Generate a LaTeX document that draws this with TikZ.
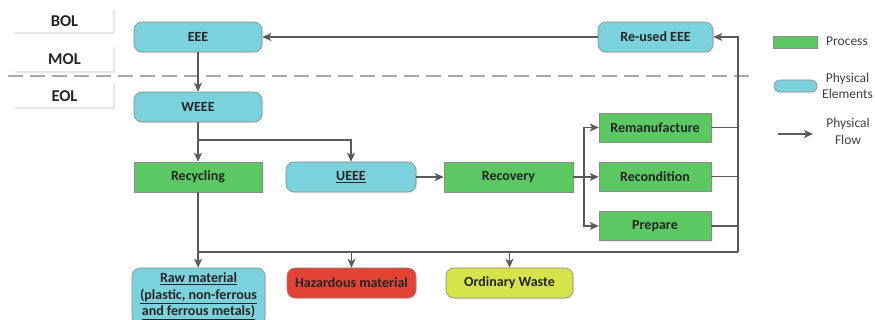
\documentclass[tikz,border=0pt]{standalone}
\usepackage{fontspec}
\setmainfont{Carlito}
\usetikzlibrary{arrows.meta,shadows}
\definecolor{phys}{HTML}{7BD2DC}
\definecolor{proc}{HTML}{5CC862}
\definecolor{haz}{HTML}{E34335}
\definecolor{ordw}{HTML}{D6E34A}
\definecolor{flow}{HTML}{5A5A5A}
\definecolor{boxedge}{HTML}{8C8C8C}
\definecolor{phaseedge}{HTML}{E6E6E6}
\definecolor{divider}{HTML}{A8A8A8}
\definecolor{legendtext}{HTML}{404040}

\begin{document}
\begin{tikzpicture}[x=1pt,y=-1pt,
  box/.style={draw=boxedge, line width=0.6pt, inner sep=0pt, align=center,
    font=\fontsize{14}{16.5}\selectfont\bfseries, text=black!85,
    drop shadow={shadow xshift=1.5pt,shadow yshift=-1.5pt,opacity=0.15}},
  elem/.style={box, fill=phys, rounded corners=8pt},
  procbox/.style={box, fill=proc},
  flowline/.style={draw=flow, line width=1.9pt},
  flowarrow/.style={flowline, -{Stealth[length=9pt,width=8pt,inset=2.5pt]}},
  phase/.style={inner sep=0pt, font=\fontsize{16.5}{18}\selectfont\bfseries, text=black!85},
  phaseline/.style={draw=phaseedge, line width=2.5pt},
  legend/.style={inner sep=0pt, align=center, font=\fontsize{13.5}{16.5}\selectfont, text=legendtext}
]
\useasboundingbox (0,0) rectangle (875,320);

% life-cycle phases
\node[phase, minimum width=99pt, minimum height=23pt] (bol) at (64.5,21.5) {BOL};
\node[phase, minimum width=99pt, minimum height=25pt] (mol) at (64.5,59.5) {MOL};
\node[phase, minimum width=99pt, minimum height=24pt] (eol) at (64.5,96) {EOL};
\foreach \p in {bol,mol,eol}
  \draw[phaseline] (\p.south west) -- (\p.south east) -- (\p.north east);
\draw[divider, line width=1.5pt, dash pattern=on 15pt off 7pt] (8,76) -- (756,76);

% physical elements
\node[elem, minimum width=128pt, minimum height=30pt] (eee) at (198,37) {EEE};
\node[elem, minimum width=128pt, minimum height=30pt] (weee) at (198,107) {WEEE};
\node[elem, minimum width=130pt, minimum height=30pt] (ueee) at (351,177) {\underline{UEEE}};
\node[elem, minimum width=115pt, minimum height=30pt] (reused) at (655.5,37) {Re-used EEE};
\node[elem, minimum width=133pt, minimum height=57pt] (raw) at (198.5,296.5)
  {\underline{Raw material}\\\underline{(plastic, non-ferrous}\\\underline{and ferrous metals)}};
\node[elem, fill=haz, minimum width=129pt, minimum height=30pt] (hazard) at (351.5,283) {Hazardous material};
\node[elem, fill=ordw, minimum width=127pt, minimum height=30pt] (ordinary) at (509.5,283) {Ordinary Waste};

% processes
\node[procbox, minimum width=128pt, minimum height=30pt] (recycling) at (198,177) {Recycling};
\node[procbox, minimum width=129pt, minimum height=30pt] (recovery) at (508.5,177) {Recovery};
\node[procbox, minimum width=112pt, minimum height=29pt] (reman) at (655,127.5) {Remanufacture};
\node[procbox, minimum width=112pt, minimum height=29pt] (recond) at (655,176.5) {Recondition};
\node[procbox, minimum width=112pt, minimum height=29pt] (prepare) at (655,226) {Prepare};

% junction points of the flow lines
\coordinate (split) at (198,140);
\coordinate (bus) at (198,252);
\coordinate (busend) at (738,252);
\coordinate (fork) at (584,177);

% physical flows
\draw[flowarrow] (eee) -- (weee);
\draw[flowline] (weee) -- (split);
\draw[flowarrow] (split) -- (recycling);
\draw[flowarrow] (split) -| (ueee);
\draw[flowarrow] (ueee) -- (recovery);
\draw[flowline] (recovery) -- (fork);
\draw[flowarrow] (fork) |- (reman);
\draw[flowarrow] (fork) -- (recond);
\draw[flowarrow] (fork) |- (prepare);
\draw[flowline] (recycling) -- (bus);
\draw[flowarrow] (bus) -- (raw);
\draw[flowline] (bus) -- (busend);
\draw[flowarrow] (bus -| hazard) -- (hazard);
\draw[flowarrow] (bus -| ordinary) -- (ordinary);
\draw[flowline] (reman.east) -- (reman.east -| busend);
\draw[flowline] (recond.east) -- (recond.east -| busend);
\draw[flowline] (prepare.east) -- (prepare.east -| busend);
\draw[flowarrow] (busend) |- (reused);
\draw[flowarrow, line width=1.5pt] (reused) -- (eee);

% legend
\node[procbox, draw=boxedge, minimum width=44pt, minimum height=12pt] (legproc) at (795,42) {};
\node[legend, anchor=west] (legproctext) at (826,41) {Process};
\node[elem, rounded corners=6pt, minimum width=43pt, minimum height=12pt] (legelem) at (795.5,86) {};
\node[legend] (legelemtext) at (847.5,86) {Physical\\Elements};
\coordinate (legflowa) at (778,134);
\coordinate (legflowb) at (813,134);
\draw[flowarrow, line width=1.5pt] (legflowa) -- (legflowb);
\node[legend] (legflowtext) at (848,131.5) {Physical\\Flow};
\end{tikzpicture}
\end{document}
